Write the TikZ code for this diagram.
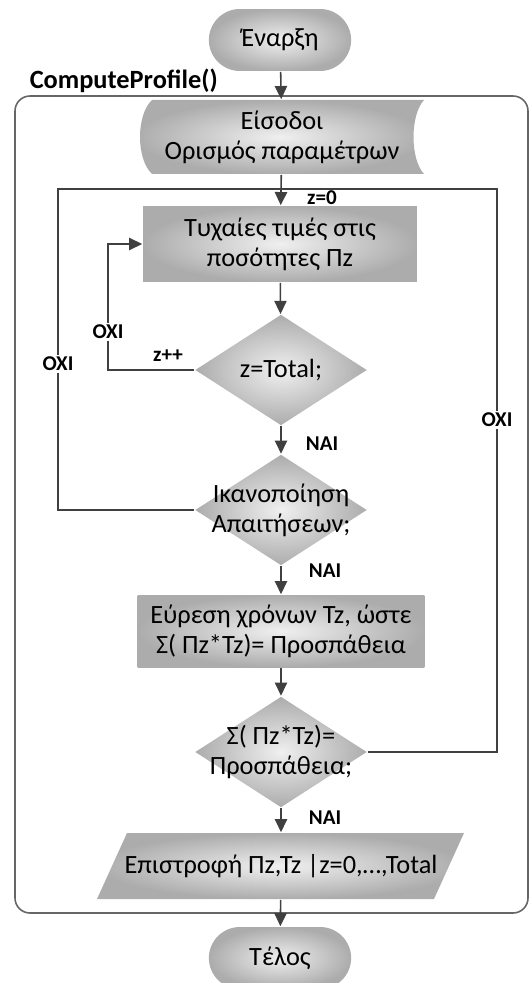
\documentclass[tikz,border=0pt]{standalone}
\usepackage{fontspec}
\setmainfont{Carlito}
\usepackage{tikz}
\usetikzlibrary{arrows.meta,shapes.geometric,shapes.misc,positioning}
\tikzset{>={Triangle[length=7.5pt,width=7pt]}}

\begin{document}
\begin{tikzpicture}[x=0.02cm,y=-0.02cm,line width=0.9pt,
    txt/.style={font=\fontsize{15}{17}\selectfont,align=center,text=black},
    lbl/.style={font=\fontsize{12}{14}\selectfont\bfseries,inner sep=1pt},
    grad/.style={inner color=gray!12,outer color=gray!65},
    term/.style={grad,txt,rounded rectangle,minimum width=3.08cm,minimum height=1.24cm},
    proc/.style={grad,txt,rectangle,inner sep=0pt},
    dec/.style={grad,diamond,minimum width=3.44cm,minimum height=2.22cm,inner sep=0pt},
    flow/.style={draw=black!75,->},
    line/.style={draw=black!75}]
  \useasboundingbox (0,0) rectangle (531,983);

  \draw[draw=black!60,rounded corners=0.3cm] (15,96) rectangle (528,913);
  \node[font=\fontsize{15}{17}\selectfont\bfseries,anchor=base west,inner sep=0pt] (fn) at (29,89) {ComputeProfile()};

  \node[term] (start) at (280,40) {Έναρξη};

  \shade[grad] (152,100) -- (424,100) .. controls (410,115) and (410,159) .. (424,174)
    -- (152,174) .. controls (136,159) and (136,115) .. (152,100);
  \node[txt,minimum width=5.4cm,minimum height=1.48cm,inner sep=0pt] (inp) at (282,137) {Είσοδοι\\Ορισμός παραμέτρων};

  \node[proc,minimum width=5.48cm,minimum height=1.52cm] (rand) at (280,244) {Τυχαίες τιμές στις\\ποσότητες Πz};
  \node[dec] (dtot) at (281,370) {};
  \node[txt] at (dtot) {z=Total;};
  \node[dec] (dreq) at (281,510) {};
  \node[txt] at (dreq) {Ικανοποίηση\\Απαιτήσεων;};
  \node[proc,minimum width=5.74cm,minimum height=1.44cm] (find) at (281,631) {Εύρεση χρόνων Tz, ώστε\\Σ( Πz*Tz)= Προσπάθεια};
  \node[dec] (dsum) at (281,752) {};
  \node[txt] at (dsum) {Σ( Πz*Tz)=\\Προσπάθεια;};

  \shade[grad] (127,833) -- (464,833) -- (434,899) -- (97,899) -- cycle;
  \node[txt,minimum width=6.1cm,minimum height=1.32cm,inner sep=0pt] (ret) at (281,866) {Επιστροφή Πz,Tz |z=0,…,Total};

  \node[term] (stop) at (280,958) {Τέλος};

  \coordinate (lft) at (58,189);
  \coordinate (rgt) at (497,189);
  \coordinate (zl) at (108,244);

  \draw[flow] (start) -- (inp);
  \draw[flow] (inp) -- (rand);
  \draw[flow] (rand) -- (dtot);
  \draw[flow] (dtot) -- (dreq);
  \draw[flow] (dreq) -- (find);
  \draw[flow] (find) -- (dsum);
  \draw[flow] (dsum) -- (ret);
  \draw[flow] (ret) -- (stop);
  \draw[flow] (dtot.west) -| (zl) -- (rand.west);
  \draw[line] (dreq.west) -| (lft) -- (rgt) |- (dsum.east);

  \node[lbl] (l0) at (322,198) {z=0};
  \node[lbl] (linc) at (168,356) {z++};
  \node[lbl,fill=white] (lno1) at (108,332) {ΟΧΙ};
  \node[lbl,fill=white] (lno2) at (58,364) {ΟΧΙ};
  \node[lbl,fill=white] (lno3) at (497,420) {ΟΧΙ};
  \node[lbl] (lyes1) at (322,444) {ΝΑΙ};
  \node[lbl] (lyes2) at (325,571) {ΝΑΙ};
  \node[lbl] (lyes3) at (325,818) {ΝΑΙ};
\end{tikzpicture}
\end{document}
